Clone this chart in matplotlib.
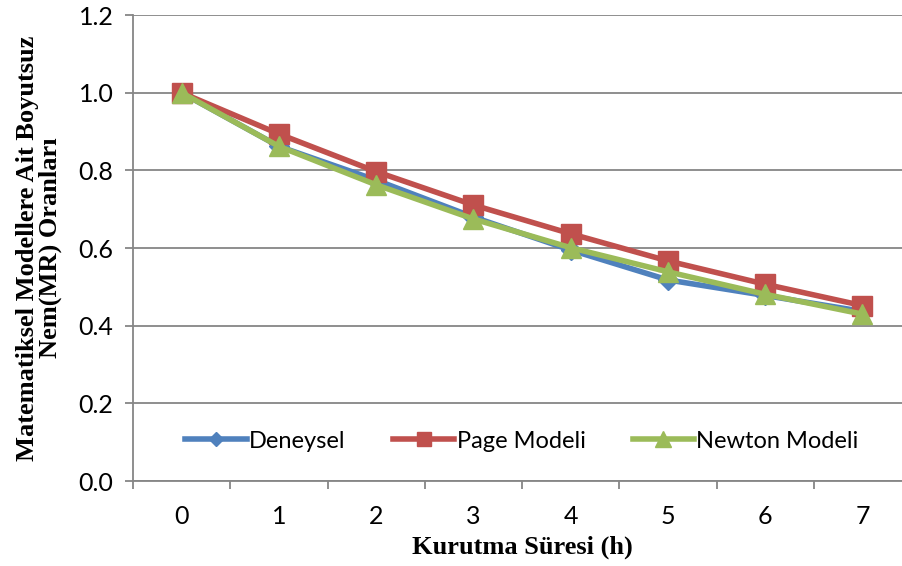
import matplotlib.pyplot as plt
import numpy as np

# drying time (h) and moisture ratio values
hours = ['0', '1', '2', '3', '4', '5', '6', '7']
deneysel = [1.0, 0.862, 0.775, 0.680, 0.595, 0.518, 0.478, 0.437]
page_model = [1.0, 0.894, 0.797, 0.711, 0.637, 0.567, 0.507, 0.452]
newton_model = [1.0, 0.862, 0.763, 0.675, 0.601, 0.539, 0.481, 0.430]

GRID = '#868686'
TICK_FONT = 'Lato'
LABEL_FONT = 'Liberation Serif'

fig = plt.figure(figsize=(9.02, 5.66), dpi=100)
ax = fig.add_axes([0.1475, 0.150, 0.8625, 0.8233])

x = np.arange(len(hours))
ax.plot(x, deneysel, color='#4F81BD', lw=4, marker='D', ms=10, label='Deneysel')
ax.plot(x, page_model, color='#C0504D', lw=4, marker='s', ms=14, label='Page Modeli')
ax.plot(x, newton_model, color='#9BBB59', lw=4, marker='^', ms=15, label='Newton Modeli')

ax.set_xlim(-0.5, len(hours) - 0.5)
ax.set_ylim(0, 1.2)

# y axis
ax.set_yticks(np.arange(0, 1.21, 0.2))
ax.set_yticklabels([f'{v:.1f}' for v in np.arange(0, 1.21, 0.2)], fontsize=18, family=TICK_FONT)
ax.yaxis.grid(True, color=GRID, lw=1.3)
ax.tick_params(axis='y', direction='out', length=6, color=GRID, width=1.3, pad=8)

# x axis: tick marks between categories, labels at centers
ax.set_xticks(np.arange(-0.5, len(hours), 1.0))
ax.set_xticklabels([])
ax.set_xticks(x, minor=True)
ax.set_xticklabels(hours, minor=True, fontsize=18, family=TICK_FONT)
ax.tick_params(axis='x', which='major', direction='out', length=6, color=GRID, width=1.3)
ax.tick_params(axis='x', which='minor', length=0, pad=17)

for side in ['top', 'right']:
    ax.spines[side].set_visible(False)
for side in ['left', 'bottom']:
    ax.spines[side].set_color(GRID)
    ax.spines[side].set_linewidth(1.3)
ax.set_axisbelow(True)

ax.set_xlabel('Kurutma Süresi (h)', fontsize=19, fontweight='bold', family=LABEL_FONT, labelpad=6)
ax.set_ylabel('Matematiksel Modellere Ait Boyutsuz\nNem(MR) Oranları', fontsize=19,
              fontweight='bold', family=LABEL_FONT, labelpad=12, linespacing=1.0)

ax.legend(loc='center', bbox_to_anchor=(0.5, 0.086), ncol=3, frameon=False,
          prop={'family': TICK_FONT, 'size': 17}, handlelength=2.6,
          handletextpad=0.1, columnspacing=2.0, markerscale=0.75)

fig.savefig('out.png', dpi=100)
